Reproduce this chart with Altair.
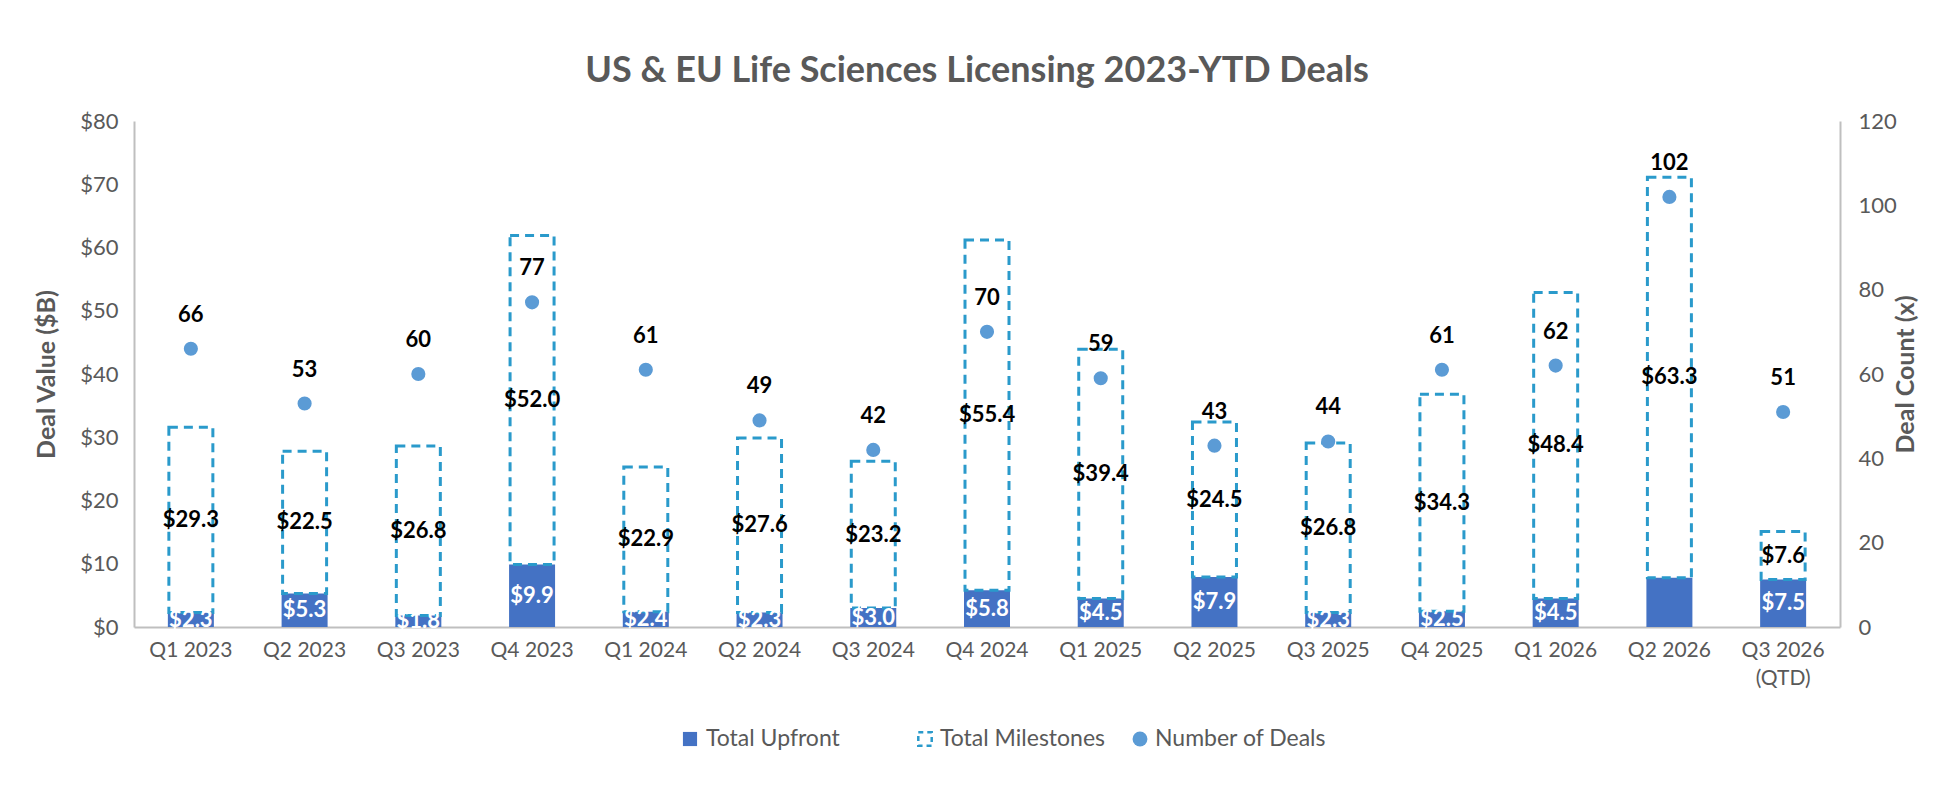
import altair as alt
import pandas as pd

quarters = ["Q1 2023", "Q2 2023", "Q3 2023", "Q4 2023", "Q1 2024", "Q2 2024",
            "Q3 2024", "Q4 2024", "Q1 2025", "Q2 2025", "Q3 2025", "Q4 2025",
            "Q1 2026", "Q2 2026", "Q3 2026 (QTD)"]
upfront = [2.3, 5.3, 1.8, 9.9, 2.4, 2.3, 3.0, 5.8, 4.5, 7.9, 2.3, 2.5, 4.5, 7.8, 7.5]
milestones = [29.3, 22.5, 26.8, 52.0, 22.9, 27.6, 23.2, 55.4, 39.4, 24.5, 26.8, 34.3, 48.4, 63.3, 7.6]
deal_counts = [66, 53, 60, 77, 61, 49, 42, 70, 59, 43, 44, 61, 62, 102, 51]
unlabelled_upfront = ["Q2 2026"]  # Excel hid this one

legend_names = ["Total Upfront", "Total Milestones", "Number of Deals"]

FONT = "Lato"
GRAY = "#595959"
BLUE = "#4472C4"
TEAL = "#2A9ACB"
DOT = "#5B9BD5"
LINE = "#BFBFBF"

W, H = 1706, 506

df = pd.DataFrame({
    "Quarter": quarters,
    "Upfront": upfront,
    "Milestones": milestones,
    "Deals": deal_counts,
})
df["Top"] = df["Upfront"] + df["Milestones"]
df["UpMid"] = df["Upfront"] / 2
df["MsMid"] = df["Upfront"] + df["Milestones"] / 2
df["UpLabel"] = ["" if q in unlabelled_upfront else f"${v:.1f}" for q, v in zip(quarters, upfront)]
df["MsLabel"] = [f"${v:.1f}" for v in milestones]

x = alt.X(
    "Quarter:N",
    sort=quarters,
    scale=alt.Scale(paddingInner=0.6, paddingOuter=0.3),
    axis=alt.Axis(
        title=None, labelAngle=0, ticks=False, domainColor=LINE, domainWidth=2,
        labelFontSize=21, labelPadding=12, labelLineHeight=28,
        labelExpr="datum.label == 'Q3 2026 (QTD)' ? ['Q3 2026', '(QTD)'] : datum.label",
    ),
)

left_axis = alt.Axis(
    title="Deal Value ($B)", values=list(range(0, 81, 10)), labelExpr="'$' + datum.value",
    grid=False, ticks=False, domainColor=LINE, domainWidth=2, labelPadding=16,
    titlePadding=20,
)
right_axis = alt.Axis(
    title="Deal Count (x)", orient="right", values=list(range(0, 121, 20)),
    grid=False, ticks=False, domainColor=LINE, domainWidth=2, labelPadding=18,
    titlePadding=22, titleAngle=270, titleBaseline="bottom",
)


def ly(field):
    return alt.Y(field, scale=alt.Scale(domain=[0, 80]), axis=left_axis)


def ry(field):
    return alt.Y(field, scale=alt.Scale(domain=[0, 120]), axis=right_axis)


base = alt.Chart(df)

up_bars = base.mark_bar(size=46, color=BLUE).encode(x=x, y=ly("Upfront:Q"))
ms_boxes = base.mark_bar(
    size=44, fillOpacity=0, stroke=TEAL, strokeWidth=3, strokeDash=[9, 6]
).encode(x=x, y=ly("Upfront:Q"), y2="Top:Q")
up_text = base.mark_text(
    color="white", fontWeight="bold", fontSize=22, baseline="middle"
).encode(x=x, y=ly("UpMid:Q"), text="UpLabel:N")
ms_text = base.mark_text(
    color="black", fontWeight="bold", fontSize=22, baseline="middle"
).encode(x=x, y=ly("MsMid:Q"), text="MsLabel:N")

# hand-drawn legend under the axis labels
leg_y = 618
leg = pd.DataFrame({"name": legend_names})
leg_sq = alt.Chart(leg.iloc[[0]]).mark_point(
    shape="square", filled=True, size=200, color=BLUE, opacity=1
).encode(x=alt.value(556), y=alt.value(leg_y))
leg_dash = alt.Chart(leg.iloc[[1]]).mark_point(
    shape="square", filled=False, size=180, color=TEAL, strokeWidth=2.5,
    strokeDash=[5, 4], opacity=1
).encode(x=alt.value(791), y=alt.value(leg_y))
leg_dot = alt.Chart(leg.iloc[[2]]).mark_circle(size=220, color=DOT, opacity=1).encode(
    x=alt.value(1006), y=alt.value(leg_y)
)
leg_text = [
    alt.Chart(leg.iloc[[i]]).mark_text(
        align="left", baseline="middle", fontSize=23, color=GRAY
    ).encode(x=alt.value(px), y=alt.value(leg_y), text="name:N")
    for i, px in enumerate([572, 806, 1021])
]

left = alt.layer(up_bars, ms_boxes, up_text, ms_text, leg_sq, leg_dash, leg_dot, *leg_text)

dots = base.mark_circle(size=200, color=DOT, opacity=1).encode(x=x, y=ry("Deals:Q"))
dot_text = base.mark_text(
    color="black", fontWeight="bold", fontSize=22, dy=-34, baseline="middle"
).encode(x=x, y=ry("Deals:Q"), text="Deals:Q")
right = alt.layer(dots, dot_text)

chart = (
    alt.layer(left, right)
    .resolve_scale(y="independent")
    .properties(
        width=W,
        height=H,
        autosize=alt.AutoSizeParams(type="none"),
        padding={"left": 126, "top": 113, "right": 100, "bottom": 150},
        title=alt.TitleParams(
            "US & EU Life Sciences Licensing 2023-YTD Deals",
            fontSize=36, font=FONT, color=GRAY, fontWeight="bold",
            anchor="middle", offset=20, dx=-10,
        ),
    )
    .configure_view(stroke=None)
    .configure_axis(
        labelFont=FONT, labelColor=GRAY, labelFontSize=22,
        titleFont=FONT, titleColor=GRAY, titleFontSize=25, titleFontWeight="bold",
    )
    .configure_text(font=FONT)
)

chart.save("out.html", embed_options={"renderer": "svg", "actions": False})
